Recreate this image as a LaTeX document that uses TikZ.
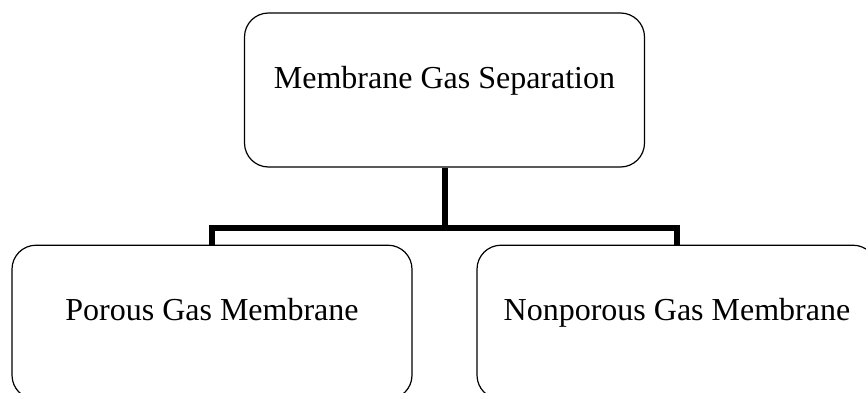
\documentclass[tikz,border=0pt]{standalone}
\usepackage{fontspec}
\setmainfont{Liberation Serif}
\usetikzlibrary{positioning}

\tikzset{
    catbox/.style={draw, line width=0.6pt, rounded corners=12pt, minimum width=200pt,
        minimum height=77pt, inner sep=0pt, text height=12pt, text depth=14pt,
        font=\fontsize{16pt}{19pt}\selectfont},
    branch/.style={line width=3pt}
}

\begin{document}
\begin{tikzpicture}
        \useasboundingbox (0,0) rectangle (433pt,196pt);
        \clip (0,0) rectangle (433pt,196pt);

        \node (sep) [catbox] at (222.25pt,151pt) {Membrane Gas Separation};
        \node (por) [catbox, below=38.5pt of sep, xshift=-116.25pt] {Porous Gas Membrane};
        \node (non) [catbox, below=38.5pt of sep, xshift=116.25pt] {Nonporous Gas Membrane};

        \path (sep.south) ++(0,-30pt) coordinate (fork);

        \draw[branch] (sep.south) -- (fork);
        \draw[branch] (por.north) |- (fork) -| (non.north);
    \end{tikzpicture}
\end{document}
